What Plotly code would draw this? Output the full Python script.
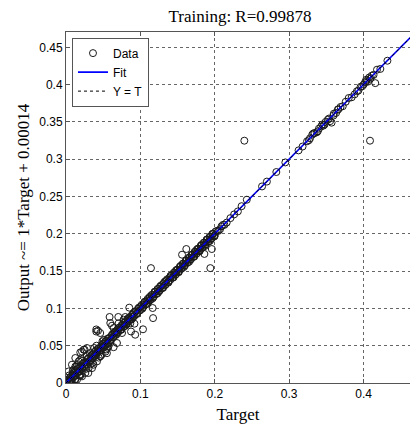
import plotly.graph_objects as go

# ---------------- data ----------------
band_t = [0.000,0.002,0.003,0.005,0.006,0.008,0.010,0.011,0.013,0.015,
          0.016,0.018,0.020,0.021,0.023,0.025,0.026,0.028,0.030,0.032,
          0.033,0.035,0.037,0.038,0.040,0.042,0.044,0.045,0.047,0.049,
          0.051,0.052,0.054,0.056,0.058,0.059,0.061,0.063,0.065,0.067,
          0.068,0.070,0.072,0.074,0.076,0.077,0.079,0.081,0.083,0.085,
          0.087,0.088,0.090,0.092,0.094,0.096,0.098,0.100,0.101,0.103,
          0.105,0.107,0.109,0.111,0.112,0.114,0.116,0.118,0.120,0.122,
          0.124,0.125,0.127,0.129,0.131,0.133,0.135,0.137,0.139,0.140,
          0.142,0.144,0.146,0.148,0.150,0.152,0.154,0.156,0.158,0.160,
          0.162,0.164,0.166,0.168,0.170,0.172,0.174,0.176,0.178,0.180,
          0.182,0.184,0.186,0.188,0.190,0.192,0.194,0.196,0.198,0.200,
          0.203,0.207,0.211,0.216,0.221,0.226,0.231]
band_o = [0.001,0.000,0.005,0.003,0.008,0.006,0.013,0.009,0.015,0.013,
          0.019,0.016,0.022,0.019,0.026,0.023,0.028,0.026,0.033,0.030,
          0.035,0.033,0.039,0.036,0.043,0.040,0.046,0.043,0.049,0.047,
          0.053,0.050,0.056,0.054,0.060,0.057,0.063,0.061,0.067,0.065,
          0.070,0.068,0.074,0.072,0.078,0.075,0.081,0.079,0.085,0.083,
          0.089,0.086,0.092,0.090,0.096,0.094,0.100,0.098,0.103,0.101,
          0.107,0.105,0.111,0.109,0.114,0.112,0.118,0.116,0.122,0.120,
          0.126,0.123,0.129,0.127,0.133,0.131,0.137,0.135,0.141,0.138,
          0.144,0.142,0.148,0.146,0.152,0.150,0.156,0.154,0.160,0.158,
          0.164,0.162,0.168,0.166,0.172,0.170,0.176,0.174,0.180,0.178,
          0.184,0.182,0.188,0.186,0.192,0.190,0.196,0.194,0.200,0.198,
          0.204,0.206,0.212,0.215,0.221,0.226,0.230]

band2_t = [0.001,0.004,0.007,0.009,0.012,0.014,0.017,0.019,0.022,0.024,
           0.027,0.029,0.031,0.034,0.036,0.039,0.041,0.043,0.046,0.048,
           0.050,0.053,0.055,0.057,0.060,0.062,0.064,0.066,0.069,0.071,
           0.073,0.075,0.078,0.080,0.082,0.084,0.086,0.089,0.091,0.093,
           0.095,0.097,0.099,0.102,0.104,0.106,0.108,0.110,0.113,0.115,
           0.117,0.119,0.121,0.123,0.126,0.128,0.130,0.132,0.134,0.136,
           0.138,0.141,0.143,0.145,0.147,0.149,0.151,0.153,0.155,0.157,
           0.159,0.161,0.163,0.165,0.167,0.169,0.171,0.173,0.175,0.177,
           0.179,0.181,0.183,0.185,0.187,0.189,0.191,0.193,0.195,0.197,
           0.199,0.201,0.205,0.209,0.213]
band2_o = [0.003,0.002,0.004,0.011,0.010,0.017,0.015,0.022,0.020,0.027,
           0.025,0.032,0.029,0.037,0.034,0.042,0.039,0.046,0.044,0.051,
           0.048,0.056,0.053,0.060,0.058,0.065,0.062,0.069,0.067,0.074,
           0.071,0.078,0.076,0.083,0.080,0.087,0.085,0.092,0.089,0.096,
           0.093,0.100,0.097,0.105,0.102,0.109,0.106,0.113,0.111,0.118,
           0.115,0.122,0.119,0.126,0.124,0.131,0.128,0.135,0.132,0.139,
           0.136,0.144,0.141,0.148,0.145,0.152,0.149,0.156,0.153,0.160,
           0.157,0.164,0.161,0.168,0.165,0.172,0.169,0.176,0.173,0.180,
           0.177,0.184,0.181,0.188,0.185,0.192,0.189,0.196,0.193,0.200,
           0.197,0.203,0.204,0.210,0.212]

band3_t = [0.0015,0.0055,0.0085,0.0125,0.0155,0.0185,0.0225,0.0255,0.0295,0.0325,
           0.0355,0.0395,0.0425,0.0465,0.0495,0.0535,0.0565,0.0605,0.0635,0.0675,
           0.0705,0.0745,0.0775,0.0815,0.0845,0.0885,0.0915,0.0955,0.0985,0.1025,
           0.1055,0.1095,0.1125,0.1165,0.1195,0.1235,0.1265,0.1305,0.1335,0.1375,
           0.1405,0.1445,0.1475,0.1515,0.1545,0.1585,0.1615,0.1655,0.1685,0.1725,
           0.1755,0.1795,0.1825,0.1865,0.1895,0.1935,0.1965,0.1995]
band3_o = [0.0045,0.0025,0.0115,0.0095,0.0185,0.0155,0.0255,0.0225,0.0325,0.0295,
           0.0385,0.0365,0.0455,0.0435,0.0525,0.0505,0.0595,0.0575,0.0665,0.0645,
           0.0735,0.0715,0.0805,0.0785,0.0875,0.0855,0.0945,0.0925,0.1015,0.0995,
           0.1085,0.1065,0.1155,0.1135,0.1225,0.1205,0.1295,0.1275,0.1365,0.1345,
           0.1435,0.1415,0.1505,0.1485,0.1575,0.1555,0.1645,0.1625,0.1715,0.1695,
           0.1785,0.1765,0.1855,0.1835,0.1925,0.1905,0.1995,0.1965]

upper_t = [0.236,0.243,0.2635,0.270,0.2827,0.2948,0.3126,0.318,0.324,0.328,
           0.331,0.334,0.337,0.340,0.343,0.346,0.349,0.352,0.355,0.357,
           0.360,0.363,0.366,0.369,0.372,0.376,0.380,0.384,0.388,0.391,
           0.393,0.396,0.398,0.400,0.402,0.404,0.406,0.409,0.411,0.4134,
           0.4157,0.418,0.4225,0.432,0.2397,0.4086,
           0.3265,0.3325,0.3385,0.3445,0.3475,0.3535,0.3595,0.3655,0.4035,0.4075]
upper_o = [0.237,0.2457,0.2635,0.270,0.2828,0.2957,0.3118,0.317,0.324,0.328,
           0.333,0.335,0.336,0.341,0.344,0.345,0.350,0.353,0.351,0.349,
           0.361,0.362,0.367,0.370,0.371,0.377,0.382,0.383,0.387,0.391,
           0.392,0.397,0.3976,0.400,0.403,0.405,0.404,0.408,0.412,0.413,
           0.402,0.420,0.421,0.432,0.3248,0.3248,
           0.3255,0.3345,0.3375,0.3465,0.3465,0.3545,0.3585,0.3665,0.4065,0.4095]

scatter_t = [0.0850,0.1165,0.1170,0.1035,0.0920,0.0887,0.0797,0.0707,0.0595,0.0430,
             0.0460,0.0640,0.0660,0.0685,0.0570,0.0530,0.0480,0.0390,0.0215,0.0250,
             0.0190,0.0125,0.0350,0.0300,0.0215,0.0125,0.0930,0.1142,0.1560,0.1617,
             0.1860,0.1960,0.1940,0.0586,0.0407,0.0407,0.0618,0.0797,0.0874,0.0753,
             0.0864,0.0774,0.0703,0.0237,0.0282,0.0192,0.0125,0.0170,0.0080,0.0102,
             0.0035,0.0595,0.0640,0.0550,0.0460,0.0417,0.0370,0.0304,0.0260,0.0192,
             0.0148,0.0505]
scatter_o = [0.1010,0.1005,0.0870,0.0720,0.0795,0.0885,0.0885,0.0800,0.0804,0.0700,
             0.0670,0.0737,0.0670,0.0536,0.0490,0.0420,0.0380,0.0366,0.0420,0.0446,
             0.0310,0.0220,0.0200,0.0134,0.0089,0.0045,0.0647,0.1540,0.1720,0.1796,
             0.1730,0.1796,0.1540,0.0885,0.0718,0.0690,0.0768,0.0768,0.0690,0.0670,
             0.0800,0.0849,0.0885,0.0446,0.0469,0.0410,0.0335,0.0290,0.0245,0.0178,
             0.0155,0.0536,0.0480,0.0400,0.0357,0.0290,0.0245,0.0200,0.0134,0.0098,
             0.0044,0.0490]

origin_t = [0.004,0.006,0.009,0.012,0.014,0.018,0.022,0.027,0.032,0.036,
            0.041,0.046,0.051,0.056,0.008,0.015,0.020,0.028,0.033,0.038,
            0.044,0.049,0.054]
origin_o = [0.010,0.000,0.016,0.005,0.022,0.010,0.030,0.019,0.040,0.027,
            0.050,0.036,0.058,0.047,0.003,0.024,0.012,0.036,0.025,0.047,
            0.034,0.056,0.045]

fit_slope = 1.0
fit_intercept = 0.00014
line_span = [0.0, 0.47]

x_tickvals = [0, 0.1, 0.2, 0.3, 0.4]
x_ticktext = ["0", "0.1", "0.2", "0.3", "0.4"]
y_tickvals = [0, 0.05, 0.1, 0.15, 0.2, 0.25, 0.3, 0.35, 0.4, 0.45]
y_ticktext = ["0", "0.05", "0.1", "0.15", "0.2", "0.25", "0.3", "0.35", "0.4", "0.45"]

r_value = "0.99878"

# ---------------- figure ----------------
data_t = band_t + band2_t + band3_t + upper_t + scatter_t + origin_t
data_o = band_o + band2_o + band3_o + upper_o + scatter_o + origin_o

fig = go.Figure()
fig.add_trace(go.Scatter(
    x=data_t, y=data_o, mode="markers", name="Data",
    marker=dict(symbol="circle-open", size=7, color="#1a1a1a",
                line=dict(width=1, color="#1a1a1a")),
))
fig.add_trace(go.Scatter(
    x=line_span, y=[fit_slope * v + fit_intercept for v in line_span],
    mode="lines", name="Fit", line=dict(color="#0000ff", width=1.6),
))
fig.add_trace(go.Scatter(
    x=line_span, y=line_span, mode="lines", name="Y = T",
    line=dict(color="#000000", width=1, dash="dot"),
))

axis_font = dict(family="Liberation Sans, Arial, sans-serif", size=12, color="#000000")
title_font = dict(family="Liberation Serif, Times New Roman, serif", size=17, color="#000000")

fig.update_layout(
    width=410, height=424,
    margin=dict(l=66, r=0, t=32, b=41, pad=0),
    paper_bgcolor="white", plot_bgcolor="white",
    title=dict(text="Training: R=" + r_value, font=title_font,
               x=240 / 410, xref="container", xanchor="center",
               y=(424 - 16) / 424, yref="container", yanchor="middle"),
    showlegend=True,
    legend=dict(x=0.0174, y=0.984, xanchor="left", yanchor="top",
                bgcolor="white", bordercolor="#555555", borderwidth=1,
                font=dict(family="Liberation Sans, Arial, sans-serif", size=12, color="#000000"),
                tracegroupgap=0),
    xaxis=dict(range=[0, 344 / 744], tickvals=x_tickvals, ticktext=x_ticktext,
               showgrid=True, gridcolor="#666666", griddash="dot", gridwidth=1,
               zeroline=False, showline=True, linecolor="#555555", linewidth=1,
               mirror="ticks", ticks="inside", ticklen=4, tickcolor="#555555",
               tickfont=axis_font,
               title=dict(text="Target", font=title_font, standoff=7)),
    yaxis=dict(range=[0, 351 / 746], tickvals=y_tickvals, ticktext=y_ticktext,
               showgrid=True, gridcolor="#666666", griddash="dot", gridwidth=1,
               zeroline=False, showline=True, linecolor="#555555", linewidth=1,
               ticks="inside", ticklen=4, tickcolor="#555555",
               tickfont=axis_font,
               title=dict(text="Output ~= 1*Target + 0.00014", font=title_font, standoff=5)),
)

fig.write_html("out.html", config={"displayModeBar": False},
               post_script="document.body.style.margin='0';")
